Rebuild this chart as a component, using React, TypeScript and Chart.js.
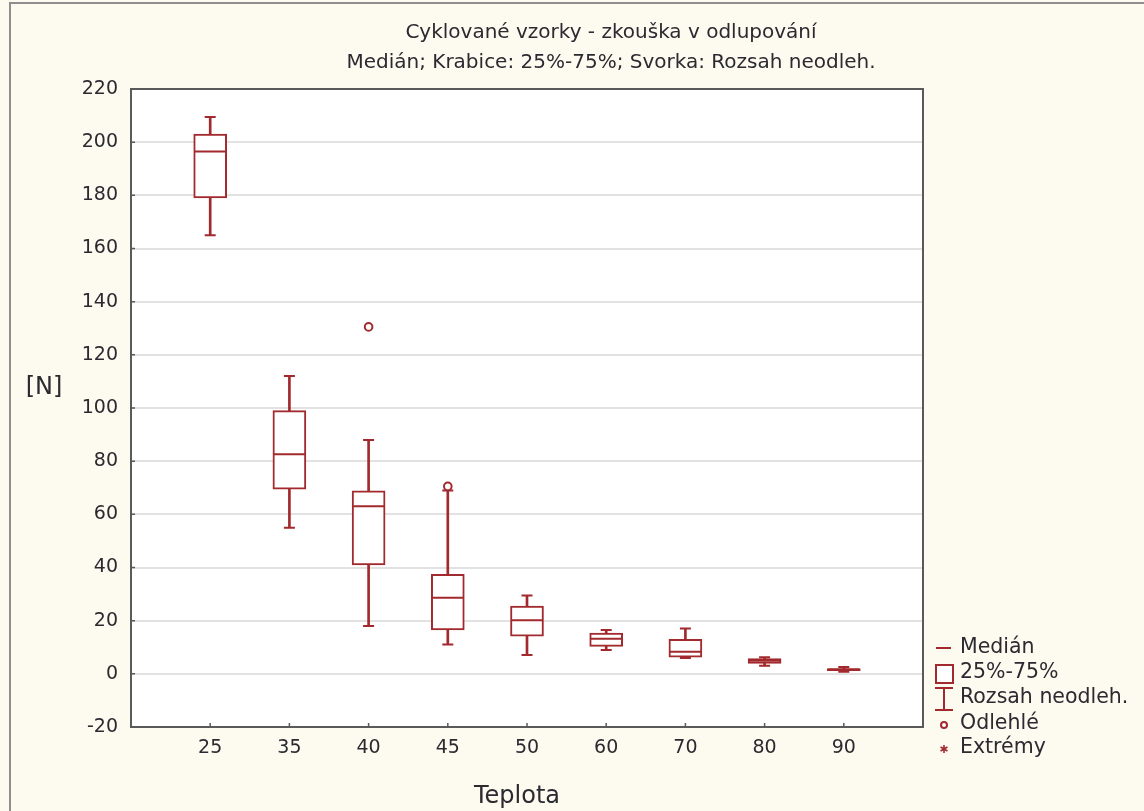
import React, { useEffect, useRef } from 'react';
import { Chart, registerables } from 'chart.js';

Chart.register(...registerables);

// ---- data ----
const categories = ['25', '35', '40', '45', '50', '60', '70', '80', '90'];
const whiskerLow = [165, 55, 18, 11, 7.1, 9, 6, 3, 0.8];
const quartile1 = [179, 69.5, 41, 16.5, 14.2, 10.3, 6.3, 3.9, 1.2];
const medians = [196.5, 82.6, 63, 28.6, 20.2, 13.2, 8.3, 4.9, 1.6];
const quartile3 = [203, 99, 68.8, 37.4, 25.5, 15.3, 13, 5.7, 2.0];
const whiskerHigh = [209.5, 112, 88, 69, 29.5, 16.5, 17.1, 6.2, 2.6];
const outliers: (number | null)[] = [null, null, 130.5, 70.5, null, null, null, null, null];

const yMin = -20;
const yMax = 220;
const yStep = 20;

const titleLines = ['Cyklované vzorky - zkouška v odlupování', 'Medián; Krabice: 25%-75%; Svorka: Rozsah neodleh.'];
const xAxisTitle = 'Teplota';
const yAxisTitle = '[N]';
const legendLabels = ['Medián', '25%-75%', 'Rozsah neodleh.', 'Odlehlé', 'Extrémy'];

// ---- styling ----
const RED = '#a2292d';
const FONT = "'DejaVu Sans', Verdana, sans-serif";
const TEXT = '#2a2a30';

const pad = <T,>(arr: T[]): (T | null)[] => [null, ...arr, null];
const paddedLabels = ['', ...categories, ''];

const decorPlugin = {
  id: 'decor',
  beforeDraw(chart: any) {
    const { ctx, width, height, chartArea: a } = chart;
    ctx.save();
    ctx.fillStyle = '#fdfaf0';
    ctx.fillRect(0, 0, width, height);
    ctx.strokeStyle = '#8e8e8e';
    ctx.lineWidth = 2;
    ctx.beginPath();
    ctx.moveTo(10, height + 5);
    ctx.lineTo(10, 3);
    ctx.lineTo(width + 5, 3);
    ctx.stroke();
    ctx.fillStyle = '#ffffff';
    ctx.fillRect(a.left, a.top, a.right - a.left, a.bottom - a.top);
    ctx.restore();
  },
  afterDraw(chart: any) {
    const { ctx, chartArea: a, scales } = chart;
    const xs = scales.x;
    const ys = scales.y;
    ctx.save();
    // frame
    ctx.strokeStyle = '#5a5a5a';
    ctx.lineWidth = 2;
    ctx.strokeRect(a.left, a.top, a.right - a.left, a.bottom - a.top);
    // inward tick marks
    ctx.lineWidth = 1.5;
    ctx.beginPath();
    ys.ticks.forEach((t: any) => {
      const y = ys.getPixelForValue(t.value);
      ctx.moveTo(a.left, y);
      ctx.lineTo(a.left + 4, y);
    });
    categories.forEach((_, i) => {
      const x = xs.getPixelForValue(i + 1);
      ctx.moveTo(x, a.bottom);
      ctx.lineTo(x, a.bottom - 4);
    });
    ctx.stroke();

    // title
    ctx.fillStyle = TEXT;
    ctx.textAlign = 'center';
    ctx.textBaseline = 'middle';
    ctx.font = `20px ${FONT}`;
    const tx = 611;
    titleLines.forEach((line, i) => ctx.fillText(line, tx, 33 + i * 30));

    // axis titles
    ctx.font = `24px ${FONT}`;
    ctx.fillText(yAxisTitle, 44, 388);
    ctx.fillText(xAxisTitle, 517, 797);

    // legend
    const sx = a.right + 21;
    const lx = a.right + 37;
    const ly = [648, 673, 698, 724, 748];
    ctx.strokeStyle = RED;
    ctx.fillStyle = RED;
    ctx.lineWidth = 2;
    // median line
    ctx.beginPath();
    ctx.moveTo(sx - 8, ly[0]);
    ctx.lineTo(sx + 7, ly[0]);
    ctx.stroke();
    // box
    ctx.fillStyle = '#ffffff';
    ctx.fillRect(sx - 8, ly[1] - 8, 17, 18);
    ctx.strokeRect(sx - 8, ly[1] - 8, 17, 18);
    // whisker I
    ctx.beginPath();
    ctx.moveTo(sx - 9, ly[2] - 10);
    ctx.lineTo(sx + 9, ly[2] - 10);
    ctx.moveTo(sx, ly[2] - 10);
    ctx.lineTo(sx, ly[2] + 12);
    ctx.moveTo(sx - 9, ly[2] + 12);
    ctx.lineTo(sx + 9, ly[2] + 12);
    ctx.stroke();
    // outlier circle
    ctx.beginPath();
    ctx.arc(sx, ly[3] + 1, 3, 0, Math.PI * 2);
    ctx.fillStyle = '#ffffff';
    ctx.fill();
    ctx.stroke();
    // extreme star
    ctx.lineWidth = 1.6;
    ctx.beginPath();
    for (let k = 0; k < 3; k++) {
      const ang = (k * Math.PI) / 3 + Math.PI / 2;
      ctx.moveTo(sx - Math.cos(ang) * 4, ly[4] + 1 - Math.sin(ang) * 4);
      ctx.lineTo(sx + Math.cos(ang) * 4, ly[4] + 1 + Math.sin(ang) * 4);
    }
    ctx.stroke();

    ctx.fillStyle = TEXT;
    ctx.textAlign = 'left';
    ctx.textBaseline = 'middle';
    ctx.font = `20.5px ${FONT}`;
    legendLabels.forEach((t, i) => ctx.fillText(t, lx, ly[i]));
    ctx.restore();
  },
};

export default function App() {
  const ref = useRef<HTMLCanvasElement | null>(null);

  useEffect(() => {
    if (!ref.current) return;
    const whiskerRanges = whiskerLow.map((lo, i) => [lo, whiskerHigh[i]]);
    const boxRanges = quartile1.map((lo, i) => [lo, quartile3[i]]);

    const chart = new Chart(ref.current, {
      type: 'bar',
      data: {
        labels: paddedLabels,
        datasets: [
          {
            type: 'bar',
            label: 'whisker',
            data: pad(whiskerRanges) as any,
            backgroundColor: RED,
            borderWidth: 0,
            barThickness: 2,
            grouped: false,
            order: 5,
          },
          {
            type: 'bar',
            label: 'box',
            data: pad(boxRanges) as any,
            backgroundColor: '#ffffff',
            borderColor: RED,
            borderWidth: 2,
            borderSkipped: false,
            barThickness: 33,
            grouped: false,
            order: 4,
          },
          {
            type: 'line',
            label: 'median',
            data: pad(medians),
            showLine: false,
            pointStyle: 'line',
            pointRadius: 15.5,
            pointBorderWidth: 2,
            borderColor: RED,
            pointBorderColor: RED,
            order: 3,
          },
          {
            type: 'line',
            label: 'capHigh',
            data: pad(whiskerHigh),
            showLine: false,
            pointStyle: 'line',
            pointRadius: 5.5,
            pointBorderWidth: 2,
            borderColor: RED,
            pointBorderColor: RED,
            order: 2,
          },
          {
            type: 'line',
            label: 'capLow',
            data: pad(whiskerLow),
            showLine: false,
            pointStyle: 'line',
            pointRadius: 5.5,
            pointBorderWidth: 2,
            borderColor: RED,
            pointBorderColor: RED,
            order: 2,
          },
          {
            type: 'line',
            label: 'outliers',
            data: pad(outliers),
            showLine: false,
            pointStyle: 'circle',
            pointRadius: 3.8,
            pointBorderWidth: 2,
            borderColor: RED,
            pointBorderColor: RED,
            pointBackgroundColor: '#ffffff',
            order: 1,
          },
        ],
      },
      options: {
        responsive: false,
        animation: false,
        events: [],
        layout: { padding: { top: 89, right: 221, left: 0, bottom: 0 } },
        plugins: {
          legend: { display: false },
          title: { display: false },
          tooltip: { enabled: false },
        },
        scales: {
          x: {
            type: 'category',
            offset: false,
            grid: { display: false, drawTicks: false },
            border: { display: false },
            ticks: {
              autoSkip: false,
              maxRotation: 0,
              minRotation: 0,
              padding: 10,
              color: TEXT,
              font: { family: FONT, size: 19 },
            },
            afterFit: (scale: any) => {
              scale.height = 84;
            },
          },
          y: {
            type: 'linear',
            min: yMin,
            max: yMax,
            grid: { color: '#e2e2e2', lineWidth: 2, drawTicks: false },
            border: { display: false },
            ticks: {
              stepSize: yStep,
              padding: 13,
              color: TEXT,
              font: { family: FONT, size: 19 },
            },
            afterFit: (scale: any) => {
              scale.width = 131;
            },
          },
        },
      },
      plugins: [decorPlugin],
    });
    return () => chart.destroy();
  }, []);

  return (
    <div style={{ position: 'fixed', left: 0, top: 0, width: 1144, height: 811, overflow: 'hidden', background: '#fdfaf0' }}>
      <canvas ref={ref} width={1144} height={811} style={{ display: 'block', width: 1144, height: 811 }} />
    </div>
  );
}
